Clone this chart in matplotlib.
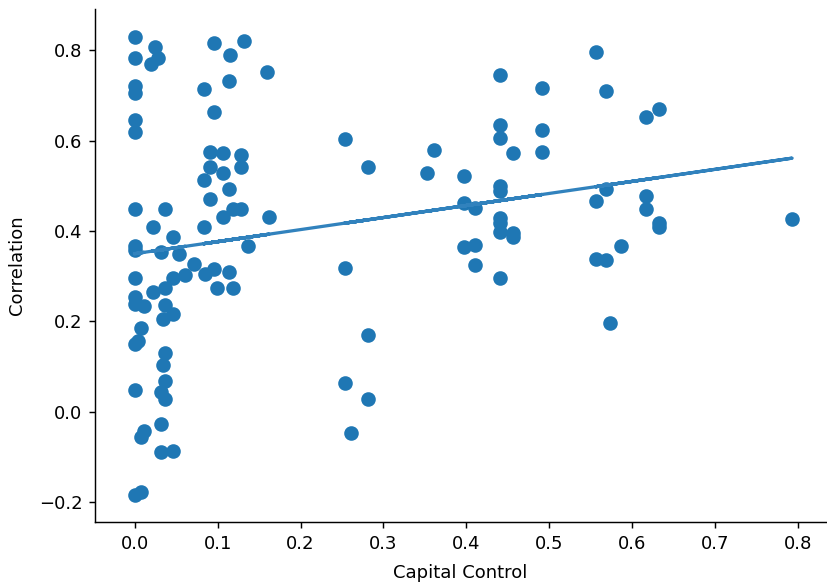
import numpy as np
import matplotlib
matplotlib.use('Agg')
import matplotlib.pyplot as plt

# Capital control index vs. correlation
capital_control = [
    0.0, 0.0, 0.0, 0.0, 0.0, 0.0, 0.0, 0.0, 0.0, 0.0, 0.0, 0.0, 0.0, 0.004, 0.0, 0.0,
    0.008, 0.007, 0.011, 0.008, 0.011, 0.022, 0.022, 0.024, 0.028, 0.020,
    0.032, 0.034, 0.036, 0.036, 0.036, 0.046, 0.046, 0.046, 0.053, 0.061,
    0.036, 0.034, 0.036, 0.032, 0.036, 0.032, 0.032, 0.046,
    0.072, 0.085, 0.095, 0.114, 0.099, 0.118,
    0.095, 0.132, 0.115, 0.159, 0.114, 0.083, 0.095, 0.091, 0.106, 0.128,
    0.091, 0.106, 0.128, 0.083, 0.114, 0.091, 0.118, 0.128, 0.106, 0.162, 0.083, 0.136,
    0.253, 0.281, 0.361, 0.352, 0.397, 0.441, 0.491, 0.441, 0.441, 0.456,
    0.491, 0.491, 0.441, 0.441, 0.397, 0.410, 0.441, 0.441, 0.441, 0.456, 0.456,
    0.397, 0.410, 0.410, 0.441, 0.253, 0.281, 0.253, 0.281, 0.261,
    0.556, 0.568, 0.617, 0.632, 0.568, 0.556, 0.617, 0.617, 0.632, 0.632, 0.793,
    0.586, 0.556, 0.568, 0.573,
]
correlation = [
    0.829, 0.783, 0.721, 0.705, 0.647, 0.619, 0.450, 0.366, 0.359, 0.295, 0.255, 0.239, 0.149, 0.157, 0.049, -0.185,
    -0.177, -0.055, -0.042, 0.186, 0.233, 0.266, 0.410, 0.807, 0.783, 0.769,
    0.353, 0.206, 0.237, 0.273, 0.448, 0.217, 0.295, 0.386, 0.350, 0.302,
    0.129, 0.104, 0.067, 0.044, 0.029, -0.027, -0.089, -0.086,
    0.328, 0.306, 0.315, 0.310, 0.273, 0.273,
    0.816, 0.820, 0.789, 0.752, 0.732, 0.714, 0.663, 0.576, 0.572, 0.568,
    0.541, 0.528, 0.541, 0.514, 0.494, 0.470, 0.450, 0.450, 0.432, 0.432, 0.408, 0.366,
    0.603, 0.541, 0.579, 0.528, 0.523, 0.745, 0.716, 0.634, 0.607, 0.572,
    0.625, 0.576, 0.499, 0.488, 0.463, 0.452, 0.430, 0.417, 0.399, 0.395, 0.388,
    0.364, 0.370, 0.324, 0.297, 0.319, 0.169, 0.064, 0.027, -0.047,
    0.796, 0.710, 0.652, 0.670, 0.494, 0.466, 0.477, 0.450, 0.417, 0.408, 0.426,
    0.368, 0.339, 0.337, 0.197,
]

x = np.array(capital_control)
y = np.array(correlation)
m, b = np.polyfit(x, y, 1)

fig = plt.figure(figsize=(827 / 130, 582 / 130), dpi=130)
ax = fig.add_axes([0.1149, 0.1026, 0.884, 0.882])
ax.scatter(x, y, s=50, color='C0')
ax.plot(x, m * x + b, color='#3182bd', linewidth=1.8)

ax.set_xlim(-0.048, 0.834)
ax.set_ylim(-0.245, 0.892)
ax.set_xticks(np.arange(0, 0.81, 0.1))
ax.set_xlabel('Capital Control', labelpad=6)
ax.set_ylabel('Correlation', labelpad=7)
ax.spines['top'].set_visible(False)
ax.spines['right'].set_visible(False)

fig.savefig('out.png', dpi=130)
